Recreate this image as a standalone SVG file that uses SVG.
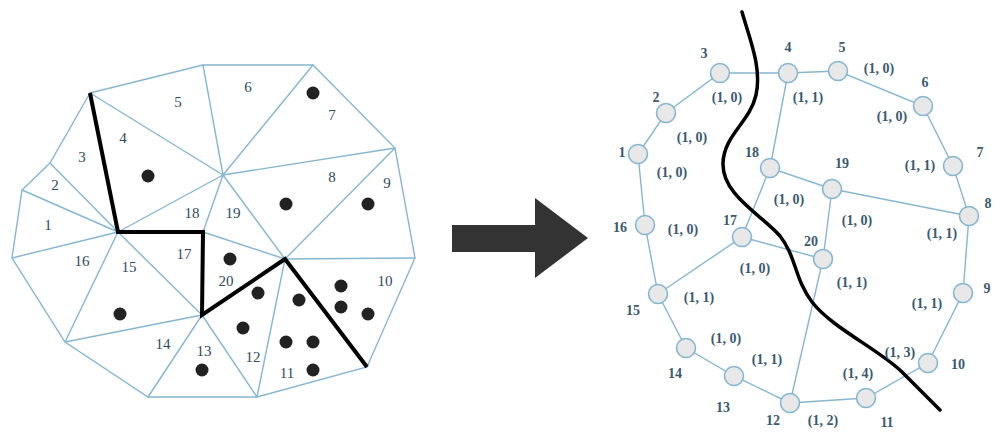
<svg xmlns="http://www.w3.org/2000/svg" width="995" height="434" viewBox="0 0 995 434">
<style>
.m{stroke:#86b6d0;stroke-width:1.4;fill:none;stroke-linecap:round}
.t{stroke:#000;stroke-width:4;fill:none;stroke-linejoin:miter}
.d{fill:#222}
.n{font-family:"Liberation Serif",serif;font-size:15px;fill:#2e4a5c;text-anchor:middle;dominant-baseline:central}
.r{font-family:"Liberation Serif",serif;font-size:14px;font-weight:bold;fill:#3a5a70;text-anchor:middle;dominant-baseline:central}
.c{fill:#e8e8e8;stroke:#86b6d0;stroke-width:1.6}
.e{stroke:#86b6d0;stroke-width:1.4;fill:none}
</style>
<rect width="995" height="434" fill="#fff"/>
<g id="mesh">
<path class="m" d="M90,93 L203,65 L313,65 L395,148 L415,258 L367,367 L257,397 L148,397 L65,342 L12,258 L22,190 L50,163 Z"/>
<path class="m" d="M118,232 L50,163 M118,232 L22,190 M118,232 L12,258 M118,232 L65,342 M118,232 L202,315 M118,232 L223,175 M90,93 L223,175 M203,65 L223,175 M313,65 L223,175 M395,148 L223,175 M223,175 L203,232 M223,175 L285,259 M203,232 L285,259 M395,148 L285,259 M415,258 L285,259 M285,259 L257,397 M202,315 L257,397 M202,315 L148,397 M202,315 L65,342"/>
<path class="t" d="M90,93 L118,232 L203,232 L202,315 L285,259 L367,367"/>
<g class="d">
<circle cx="148" cy="176" r="6.5"/><circle cx="313" cy="93" r="6.5"/><circle cx="286" cy="204" r="6.5"/><circle cx="368" cy="204" r="6.5"/>
<circle cx="120" cy="314" r="6.5"/><circle cx="202" cy="370" r="6.5"/><circle cx="230" cy="259" r="6.5"/><circle cx="258" cy="293" r="6.5"/>
<circle cx="243" cy="328" r="6.5"/><circle cx="299" cy="300" r="6.5"/><circle cx="286" cy="342" r="6.5"/><circle cx="313" cy="342" r="6.5"/>
<circle cx="313" cy="370" r="6.5"/><circle cx="341" cy="286" r="6.5"/><circle cx="341" cy="307" r="6.5"/><circle cx="368" cy="314" r="6.5"/>
</g>
<text class="n" x="48" y="225">1</text><text class="n" x="55" y="185">2</text><text class="n" x="82" y="157">3</text><text class="n" x="123" y="138">4</text>
<text class="n" x="178" y="102">5</text><text class="n" x="248" y="87">6</text><text class="n" x="332" y="115">7</text><text class="n" x="332" y="177">8</text>
<text class="n" x="387" y="183">9</text><text class="n" x="385" y="281">10</text><text class="n" x="287" y="373">11</text><text class="n" x="253" y="357">12</text>
<text class="n" x="204" y="351">13</text><text class="n" x="163" y="344">14</text><text class="n" x="129" y="267">15</text><text class="n" x="82" y="261">16</text>
<text class="n" x="184" y="254">17</text><text class="n" x="192" y="213">18</text><text class="n" x="233" y="213">19</text><text class="n" x="226" y="281">20</text>
</g>
<g id="arrow">
<path d="M452,225 L535,225 L535,198 L588,238 L535,278 L535,252 L452,252 Z" fill="#333"/>
</g>
<g id="connectors">
<path class="e" d="M638,154 L666,113 L720,73 L788,73 L838,71 L923,106 L953,166 L969,216 L963,293 L928,363 L866,398 L790,403 L734,376 L686,348 L658,294 L645,225 L638,154"/>
<path class="e" d="M788,73 L770,168 L832,189 L969,216 M770,168 L742,237 L658,294 M742,237 L823,259 L832,189 M823,259 L790,403"/>
</g>
<g id="cut">
<path d="M742,12 C750,40 762,68 756,95 C750,122 724,135 723,163 C722,195 762,215 780,236 C796,256 795,280 812,302 C832,328 880,350 902,372 L940,410" fill="none" stroke="#000" stroke-width="3.5" stroke-linecap="round"/>
</g>
<g id="n1"><circle class="c" cx="638" cy="154" r="9.5"/><text class="r" x="622" y="152">1</text><text class="r" x="672" y="172">(1, 0)</text></g>
<g id="n2"><circle class="c" cx="666" cy="113" r="9.5"/><text class="r" x="656" y="97">2</text><text class="r" x="692" y="137">(1, 0)</text></g>
<g id="n3"><circle class="c" cx="720" cy="73" r="9.5"/><text class="r" x="704" y="53">3</text><text class="r" x="727" y="97">(1, 0)</text></g>
<g id="n4"><circle class="c" cx="788" cy="73" r="9.5"/><text class="r" x="788" y="47">4</text><text class="r" x="808" y="97">(1, 1)</text></g>
<g id="n5"><circle class="c" cx="838" cy="71" r="9.5"/><text class="r" x="842" y="47">5</text><text class="r" x="879" y="68">(1, 0)</text></g>
<g id="n6"><circle class="c" cx="923" cy="106" r="9.5"/><text class="r" x="925" y="82">6</text><text class="r" x="892" y="116">(1, 0)</text></g>
<g id="n7"><circle class="c" cx="953" cy="166" r="9.5"/><text class="r" x="980" y="152">7</text><text class="r" x="920" y="165">(1, 1)</text></g>
<g id="n8"><circle class="c" cx="969" cy="216" r="9.5"/><text class="r" x="988" y="203">8</text><text class="r" x="942" y="233">(1, 1)</text></g>
<g id="n9"><circle class="c" cx="963" cy="293" r="9.5"/><text class="r" x="987" y="288">9</text><text class="r" x="927" y="303">(1, 1)</text></g>
<g id="n10"><circle class="c" cx="928" cy="363" r="9.5"/><text class="r" x="958" y="364">10</text><text class="r" x="900" y="352">(1, 3)</text></g>
<g id="n11"><circle class="c" cx="866" cy="398" r="9.5"/><text class="r" x="887" y="422">11</text><text class="r" x="858" y="373">(1, 4)</text></g>
<g id="n12"><circle class="c" cx="790" cy="403" r="9.5"/><text class="r" x="773" y="420">12</text><text class="r" x="823" y="420">(1, 2)</text></g>
<g id="n13"><circle class="c" cx="734" cy="376" r="9.5"/><text class="r" x="723" y="407">13</text><text class="r" x="767" y="359">(1, 1)</text></g>
<g id="n14"><circle class="c" cx="686" cy="348" r="9.5"/><text class="r" x="675" y="373">14</text><text class="r" x="726" y="338">(1, 0)</text></g>
<g id="n15"><circle class="c" cx="658" cy="294" r="9.5"/><text class="r" x="633" y="310">15</text><text class="r" x="699" y="297">(1, 1)</text></g>
<g id="n16"><circle class="c" cx="645" cy="225" r="9.5"/><text class="r" x="620" y="227">16</text><text class="r" x="683" y="229">(1, 0)</text></g>
<g id="n17"><circle class="c" cx="742" cy="237" r="9.5"/><text class="r" x="730" y="220">17</text><text class="r" x="755" y="268">(1, 0)</text></g>
<g id="n18"><circle class="c" cx="770" cy="168" r="9.5"/><text class="r" x="752" y="152">18</text><text class="r" x="789" y="199">(1, 0)</text></g>
<g id="n19"><circle class="c" cx="832" cy="189" r="9.5"/><text class="r" x="842" y="163">19</text><text class="r" x="857" y="220">(1, 0)</text></g>
<g id="n20"><circle class="c" cx="823" cy="259" r="9.5"/><text class="r" x="811" y="241">20</text><text class="r" x="852" y="282">(1, 1)</text></g>
</svg>
